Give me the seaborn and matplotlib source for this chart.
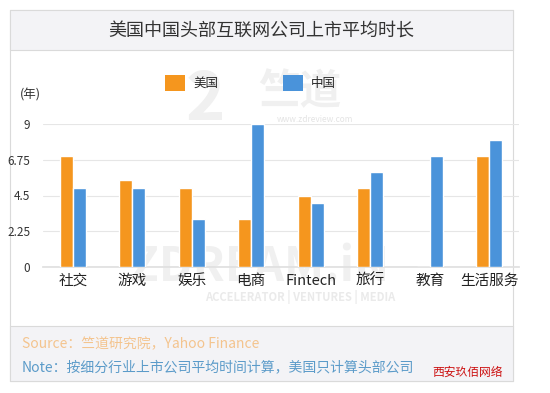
import pandas as pd
import seaborn as sns
import matplotlib.pyplot as plt
from matplotlib.patches import Rectangle, Patch

# data
categories = ["社交", "游戏", "娱乐", "电商", "Fintech", "旅行", "教育", "生活服务"]
us_years = [7, 5.5, 5, 3, 4.5, 5, 0, 7]
cn_years = [5, 5, 3, 9, 4, 6, 7, 8]
series_names = ["美国", "中国"]
yticks = [0, 2.25, 4.5, 6.75, 9]
ytick_labels = ["0", "2.25", "4.5", "6.75", "9"]

title = "美国中国头部互联网公司上市平均时长"
source_txt = "Source：竺道研究院，Yahoo Finance"
note_txt = "Note：按细分行业上市公司平均时间计算，美国只计算头部公司"

orange = "#F5961E"
blue = "#4A93DA"

df = pd.DataFrame({
    "category": categories * 2,
    "years": us_years + cn_years,
    "country": [series_names[0]] * len(categories) + [series_names[1]] * len(categories),
})

sns.set_theme(style="white")
plt.rcParams["font.family"] = ["Noto Sans CJK SC", "DejaVu Sans"]

W, H = 550, 393
fig = plt.figure(figsize=(W / 100, H / 100), dpi=100)
fig.patch.set_facecolor("white")


def fx(px):
    return px / W


def fy(py):
    return 1 - py / H


# frame, title band and footer band (behind the axes)
fig.patches.append(Rectangle((fx(10), fy(381)), fx(503), 371 / H, transform=fig.transFigure,
                             facecolor="white", edgecolor="#DADADA", lw=0.8, zorder=-3))
fig.patches.append(Rectangle((fx(10), fy(50)), fx(503), 40 / H, transform=fig.transFigure,
                             facecolor="#F3F3F6", edgecolor="#DADADA", lw=0.8, zorder=-2))
fig.patches.append(Rectangle((fx(10), fy(381)), fx(503), 55 / H, transform=fig.transFigure,
                             facecolor="#F3F3F6", edgecolor="#DADADA", lw=0.8, zorder=-2))

fig.text(fx(261), fy(31), title, ha="center", va="center", fontsize=13, color="#333333")

# faint watermark
wm = "#F0F0F0"
fig.text(fx(205), fy(100), "2", ha="center", va="center", fontsize=48, fontweight="bold",
         color=wm, zorder=-1)
fig.text(fx(300), fy(92), "竺道", ha="center", va="center", fontsize=30, fontweight="bold",
         color=wm, zorder=-1)
fig.text(fx(315), fy(119), "www.zdreview.com", ha="center", va="center", fontsize=6,
         color="#E4E4E4", zorder=-1)
fig.text(fx(260), fy(268), "ZDREAM.iN", ha="center", va="center", fontsize=34,
         fontweight="bold", color=wm, zorder=-1)
fig.text(fx(300), fy(297), "ACCELERATOR | VENTURES | MEDIA", ha="center", va="center",
         fontsize=8, fontweight="bold", color="#EAEAEA", zorder=-1)

ax = fig.add_axes([fx(43), fy(267), fx(476), (267 - 124) / H])
ax.patch.set_alpha(0)
sns.barplot(data=df, x="category", y="years", hue="country", palette=[orange, blue],
            width=0.44, gap=0, saturation=1, ax=ax, legend=False, zorder=3)

ax.set_ylim(0, 9)
ax.set_yticks(yticks)
ax.set_yticklabels(ytick_labels)
ax.set_xlabel("")
ax.set_ylabel("")
ax.grid(axis="y", color="#E6E6E6", lw=0.8, zorder=0)
ax.set_axisbelow(True)
for s in ["top", "right", "left"]:
    ax.spines[s].set_visible(False)
ax.spines["bottom"].set_color("#E0E0E0")
ax.tick_params(axis="y", length=0, pad=9, labelsize=8.5, labelcolor="#333333")
ax.tick_params(axis="x", length=0, pad=5, labelsize=10.5, labelcolor="#222222")

fig.text(fx(30), fy(95), "(年)", ha="center", va="center", fontsize=9, color="#333333")

handles = [Patch(facecolor=orange, edgecolor="none"), Patch(facecolor=blue, edgecolor="none")]
fig.legend(handles, series_names, loc="center left", bbox_to_anchor=(fx(165), fy(83)),
           ncol=2, frameon=False, fontsize=9, handlelength=1.6, handleheight=1.6,
           handletextpad=0.65, columnspacing=5.2, borderpad=0, borderaxespad=0)

fig.text(fx(22), fy(344), source_txt, ha="left", va="center", fontsize=10, color="#F3C48E")
fig.text(fx(22), fy(367), note_txt, ha="left", va="center", fontsize=10, color="#5B9BC9")
fig.text(fx(468), fy(372), "西安玖佰网络", ha="center", va="center", fontsize=8.5,
         color="#CC1111")

fig.savefig("out.png", dpi=100)
